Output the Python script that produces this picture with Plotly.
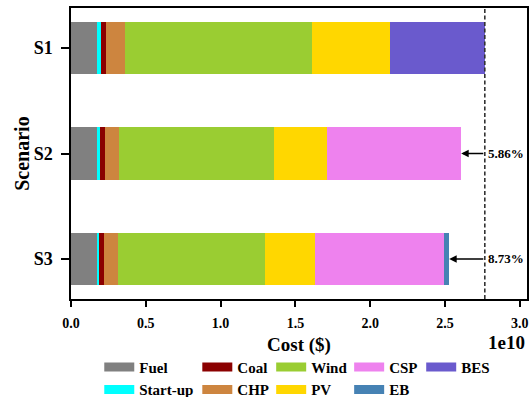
import plotly.graph_objects as go

scenarios = ["S1", "S2", "S3"]
fuel = [1.76e9, 1.72e9, 1.72e9]
startup = [0.23e9, 0.22e9, 0.17e9]
coal = [0.35e9, 0.33e9, 0.31e9]
chp = [1.27e9, 0.94e9, 0.92e9]
wind = [12.51e9, 10.35e9, 9.83e9]
pv = [5.19e9, 3.56e9, 3.34e9]
csp = [0.0, 8.96e9, 8.63e9]
eb = [0.0, 0.0, 0.36e9]
bes = [6.35e9, 0.0, 0.0]

series_names = ["Fuel", "Start-up", "Coal", "CHP", "Wind", "PV", "CSP", "EB", "BES"]
series_values = [fuel, startup, coal, chp, wind, pv, csp, eb, bes]
series_colors = ["#808080", "#00FFFF", "#8B0000", "#CD853F", "#9ACD32",
                 "#FFD700", "#EE82EE", "#4682B4", "#6A5ACD"]

reduction_labels = ["", "5.86%", "8.73%"]

x_tickvals = [0, 0.5e10, 1.0e10, 1.5e10, 2.0e10, 2.5e10, 3.0e10]
x_ticktext = ["0.0", "0.5", "1.0", "1.5", "2.0", "2.5", "3.0"]

FONT = "Liberation Serif, Times New Roman, serif"

# legend columns (matplotlib ncol=5 column-major layout)
legend_columns = [["Fuel", "Start-up"], ["Coal", "CHP"], ["Wind", "PV"], ["CSP", "EB"], ["BES"]]
legend_x = [0.062, 0.277, 0.439, 0.610, 0.768]

fig = go.Figure()
for name, vals, col in zip(series_names, series_values, series_colors):
    fig.add_trace(go.Bar(
        y=scenarios, x=vals, name=name, orientation="h",
        marker=dict(color=col, line=dict(width=0)),
        width=0.5, showlegend=False))

# legend entries
for ci, column in enumerate(legend_columns):
    lname = "legend" if ci == 0 else f"legend{ci+1}"
    for name in column:
        col = series_colors[series_names.index(name)]
        fig.add_trace(go.Scatter(
            x=[None], y=[None], mode="lines", name=name,
            line=dict(color=col, width=9), legend=lname, showlegend=True))

totals = [sum(v[i] for v in series_values) for i in range(len(scenarios))]
ref_total = totals[0]

fig.add_shape(type="line", xref="x", yref="paper", x0=ref_total, x1=ref_total,
              y0=0, y1=1, line=dict(color="#333333", width=1.6, dash="4px,2.5px"))

for i in range(1, len(scenarios)):
    fig.add_annotation(x=totals[i], y=scenarios[i], ax=ref_total, ay=scenarios[i],
                       xref="x", yref="y", axref="x", ayref="y", text="",
                       showarrow=True, arrowhead=2, arrowsize=1, arrowwidth=1.5,
                       arrowcolor="black")
    fig.add_annotation(x=ref_total, y=scenarios[i], xref="x", yref="y",
                       text=reduction_labels[i], showarrow=False, xanchor="left",
                       xshift=1,
                       font=dict(family=FONT, size=13, color="black", weight="bold"))

fig.add_annotation(x=1, y=-0.148, xref="paper", yref="paper", text="<b>1e10</b>",
                   showarrow=False, xanchor="right", yanchor="middle",
                   font=dict(family=FONT, size=19, color="black", weight="bold"))

fig.add_annotation(x=-0.109, y=0.5, xref="paper", yref="paper", text="<b>Scenario</b>",
                   showarrow=False, xanchor="center", yanchor="middle", textangle=-90,
                   font=dict(family=FONT, size=20, color="black", weight="bold"))

layout_legends = {}
for ci in range(len(legend_columns)):
    lname = "legend" if ci == 0 else f"legend{ci+1}"
    layout_legends[lname] = dict(
        x=legend_x[ci], y=-0.178, xanchor="left", yanchor="top",
        orientation="v", bgcolor="rgba(0,0,0,0)", borderwidth=0,
        traceorder="normal",
        font=dict(family=FONT, size=15, color="black", weight="bold"),
        itemwidth=30, tracegroupgap=0)

fig.update_layout(
    width=529, height=397,
    margin=dict(l=71, r=2, t=8, b=98, autoexpand=False),
    barmode="stack",
    plot_bgcolor="white", paper_bgcolor="white",
    font=dict(family=FONT, color="black"),
    **layout_legends,
)

fig.update_xaxes(
    range=[0, 3.048e10], tickvals=x_tickvals, ticktext=x_ticktext,
    ticks="outside", ticklen=6, tickwidth=1.5, tickcolor="black",
    showline=True, linecolor="black", linewidth=1.5, mirror=True,
    showgrid=False, zeroline=False, ticklabelstandoff=4, automargin=False,
    tickfont=dict(family=FONT, size=14, color="black", weight="bold"),
    title=dict(text="Cost ($)", standoff=8,
               font=dict(family=FONT, size=19, color="black", weight="bold")))

fig.update_yaxes(
    range=[2.38, -0.38], categoryorder="array", categoryarray=scenarios,
    ticks="outside", ticklen=8, tickwidth=1.5, tickcolor="black",
    showline=True, linecolor="black", linewidth=1.5, mirror=True,
    showgrid=False, zeroline=False, ticklabelstandoff=5, automargin=False,
    tickfont=dict(family=FONT, size=18, color="black", weight="bold"))

fig.write_html("out.html", post_script="document.body.style.margin='0';",
               config={"displayModeBar": False})
